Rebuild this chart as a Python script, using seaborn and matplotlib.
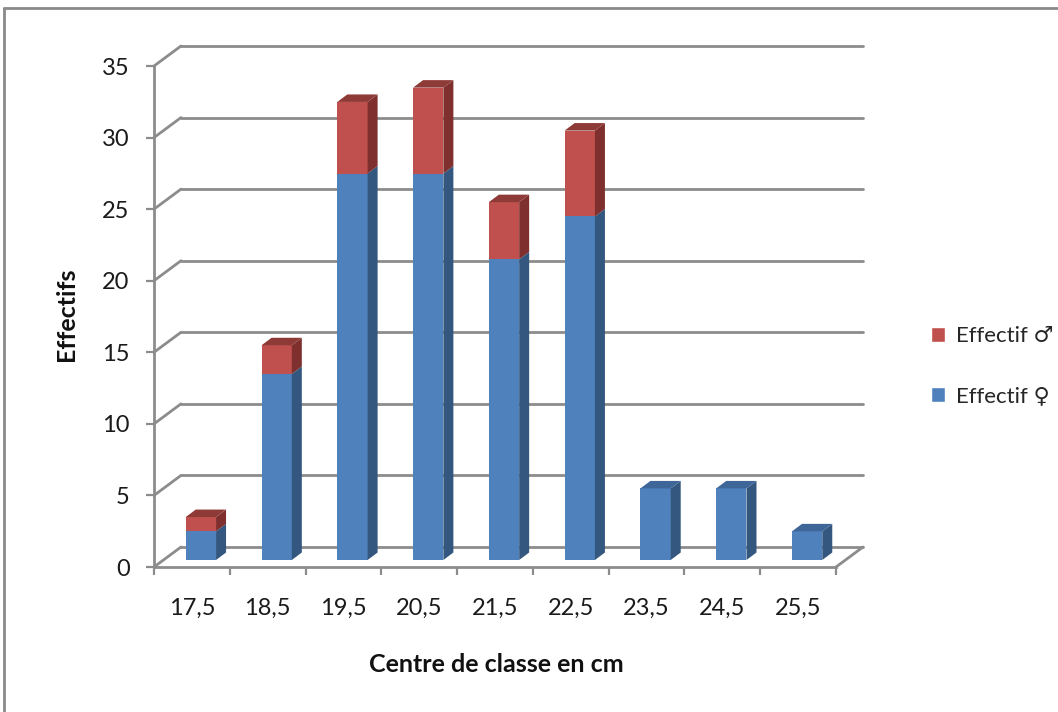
import numpy as np
import pandas as pd
import matplotlib
matplotlib.use("Agg")
import matplotlib.pyplot as plt
from matplotlib.transforms import ScaledTranslation
from matplotlib.patches import Polygon, Patch
from matplotlib.lines import Line2D
import seaborn as sns

# Class centres (cm) and counts per sex
centres = ["17,5", "18,5", "19,5", "20,5", "21,5", "22,5", "23,5", "24,5", "25,5"]
females = [2, 13, 27, 27, 21, 24, 5, 5, 2]
males = [1, 2, 5, 6, 4, 6, 0, 0, 0]
y_ticks = [0, 5, 10, 15, 20, 25, 30, 35]

sns.set_theme(style="white")
plt.rcParams["font.family"] = ["Lato", "DejaVu Sans"]

W, H, DPI = 1058, 712, 100
fig = plt.figure(figsize=(W / DPI, H / DPI), dpi=DPI)

# front plane of the pseudo-3D box
x0, x1, y0, y1 = 154, 836, 567, 66
ax = fig.add_axes([x0 / W, 1 - y0 / H, (x1 - x0) / W, (y0 - y1) / H])
ax.set_xlim(-0.5, len(centres) - 0.5)
ax.set_ylim(0, 35)

px_x = (x1 - x0) / len(centres)   # pixels per category
px_y = (y0 - y1) / 35.0           # pixels per unit

GRID = "#8c8c8c"
BLUE, BLUE_SIDE, BLUE_TOP = "#4f81bd", "#34577f", "#3e6699"
RED, RED_SIDE, RED_TOP = "#c0504d", "#7f302e", "#8e3a37"

df = pd.DataFrame({"centre": centres, "female": females, "male": males})
df["total"] = df["female"] + df["male"]

# back wall offset (depth of the box) and bar offset (bars stand mid-depth)
back = ax.transData + ScaledTranslation(27 / DPI, 20 / DPI, fig.dpi_scale_trans)
bar_tr = ax.transData + ScaledTranslation(9 / DPI, 7 / DPI, fig.dpi_scale_trans)

# back-wall gridlines and the diagonals joining them to the front axis
xl, xr = -0.5, len(centres) - 0.5
for v in y_ticks:
    ax.plot([xl, xr], [v, v], color=GRID, lw=2, transform=back, clip_on=False, zorder=1)
    ax.plot([xl, xl + 27 / px_x], [v, v + 20 / px_y], color=GRID, lw=2, clip_on=False, zorder=1)
ax.plot([xr, xr + 27 / px_x], [0, 20 / px_y], color=GRID, lw=2, clip_on=False, zorder=1)

# front faces: totals in red, females over them in blue
sns.barplot(data=df, x="centre", y="total", color=RED, width=0.4, saturation=1,
            ax=ax, zorder=3)
sns.barplot(data=df, x="centre", y="female", color=BLUE, width=0.4, saturation=1,
            ax=ax, zorder=4)
for p in ax.patches:
    p.set_transform(bar_tr)
    p.set_linewidth(0)
    p.set_clip_on(False)
if ax.get_legend() is not None:
    ax.get_legend().remove()

# side and top faces of each block
ddx, ddy = 10 / px_x, 7.5 / px_y


def box_faces(xa, w, lo, hi, side, top, show_top, z):
    xb = xa + w
    ax.add_patch(Polygon([(xb, lo), (xb + ddx, lo + ddy), (xb + ddx, hi + ddy), (xb, hi)],
                         closed=True, facecolor=side, lw=0, transform=bar_tr,
                         clip_on=False, zorder=z))
    if show_top:
        ax.add_patch(Polygon([(xa, hi), (xb, hi), (xb + ddx, hi + ddy), (xa + ddx, hi + ddy)],
                             closed=True, facecolor=top, lw=0, transform=bar_tr,
                             clip_on=False, zorder=z))


n = len(centres)
red_faces = ax.patches[:n]
for i, p in enumerate(list(red_faces)):
    xa, w = p.get_x(), p.get_width()
    f, t = df["female"][i], df["total"][i]
    box_faces(xa, w, 0, f, BLUE_SIDE, BLUE_TOP, t == f, 5)
    if t > f:
        box_faces(xa, w, f, t, RED_SIDE, RED_TOP, True, 5)

# axes: left and bottom front edges
for s in ["top", "right"]:
    ax.spines[s].set_visible(False)
for s in ["left", "bottom"]:
    ax.spines[s].set_color(GRID)
    ax.spines[s].set_linewidth(2)
    ax.spines[s].set_zorder(2)

ax.set_yticks(y_ticks)
ax.set_yticklabels([str(v) for v in y_ticks])
ax.set_xticks(range(n))
ax.set_xticklabels(centres)
ax.set_xticks(np.arange(-0.5, n, 1.0), minor=True)
ax.tick_params(axis="y", which="major", left=True, direction="out", length=5.5,
               width=1.6, color=GRID, pad=12, labelsize=17, labelcolor="#1a1a1a")
ax.tick_params(axis="x", which="major", bottom=False, length=0, pad=22,
               labelsize=17, labelcolor="#1a1a1a")
ax.tick_params(axis="x", which="minor", bottom=True, direction="out", length=5.5,
               width=1.6, color=GRID)
ax.grid(False)
ax.set_facecolor("none")

ax.set_xlabel("")
ax.set_ylabel("")
fig.text(496 / W, 1 - 665 / H, "Centre de classe en cm", ha="center", va="center",
         fontsize=18, fontweight="bold", color="#111111")
fig.text(67 / W, 1 - 314 / H, "Effectifs", ha="center", va="center", rotation=90,
         fontsize=18, fontweight="bold", color="#111111")

handles = [Patch(facecolor=RED, label="Effectif ♂"), Patch(facecolor=BLUE, label="Effectif ♀")]
fig.legend(handles=handles, loc="center left", bbox_to_anchor=(922 / W, 1 - 366 / H),
           frameon=False, fontsize=16, handlelength=0.65, handleheight=0.65,
           handletextpad=0.5, labelspacing=1.8, borderaxespad=0)

# chart-area border
fig.add_artist(Line2D([4 / W, 4 / W], [0, 1 - 8 / H], color="#8a8a8a", lw=2))
fig.add_artist(Line2D([4 / W, 1], [1 - 8 / H, 1 - 8 / H], color="#8a8a8a", lw=2))

fig.savefig("out.png", dpi=DPI)
